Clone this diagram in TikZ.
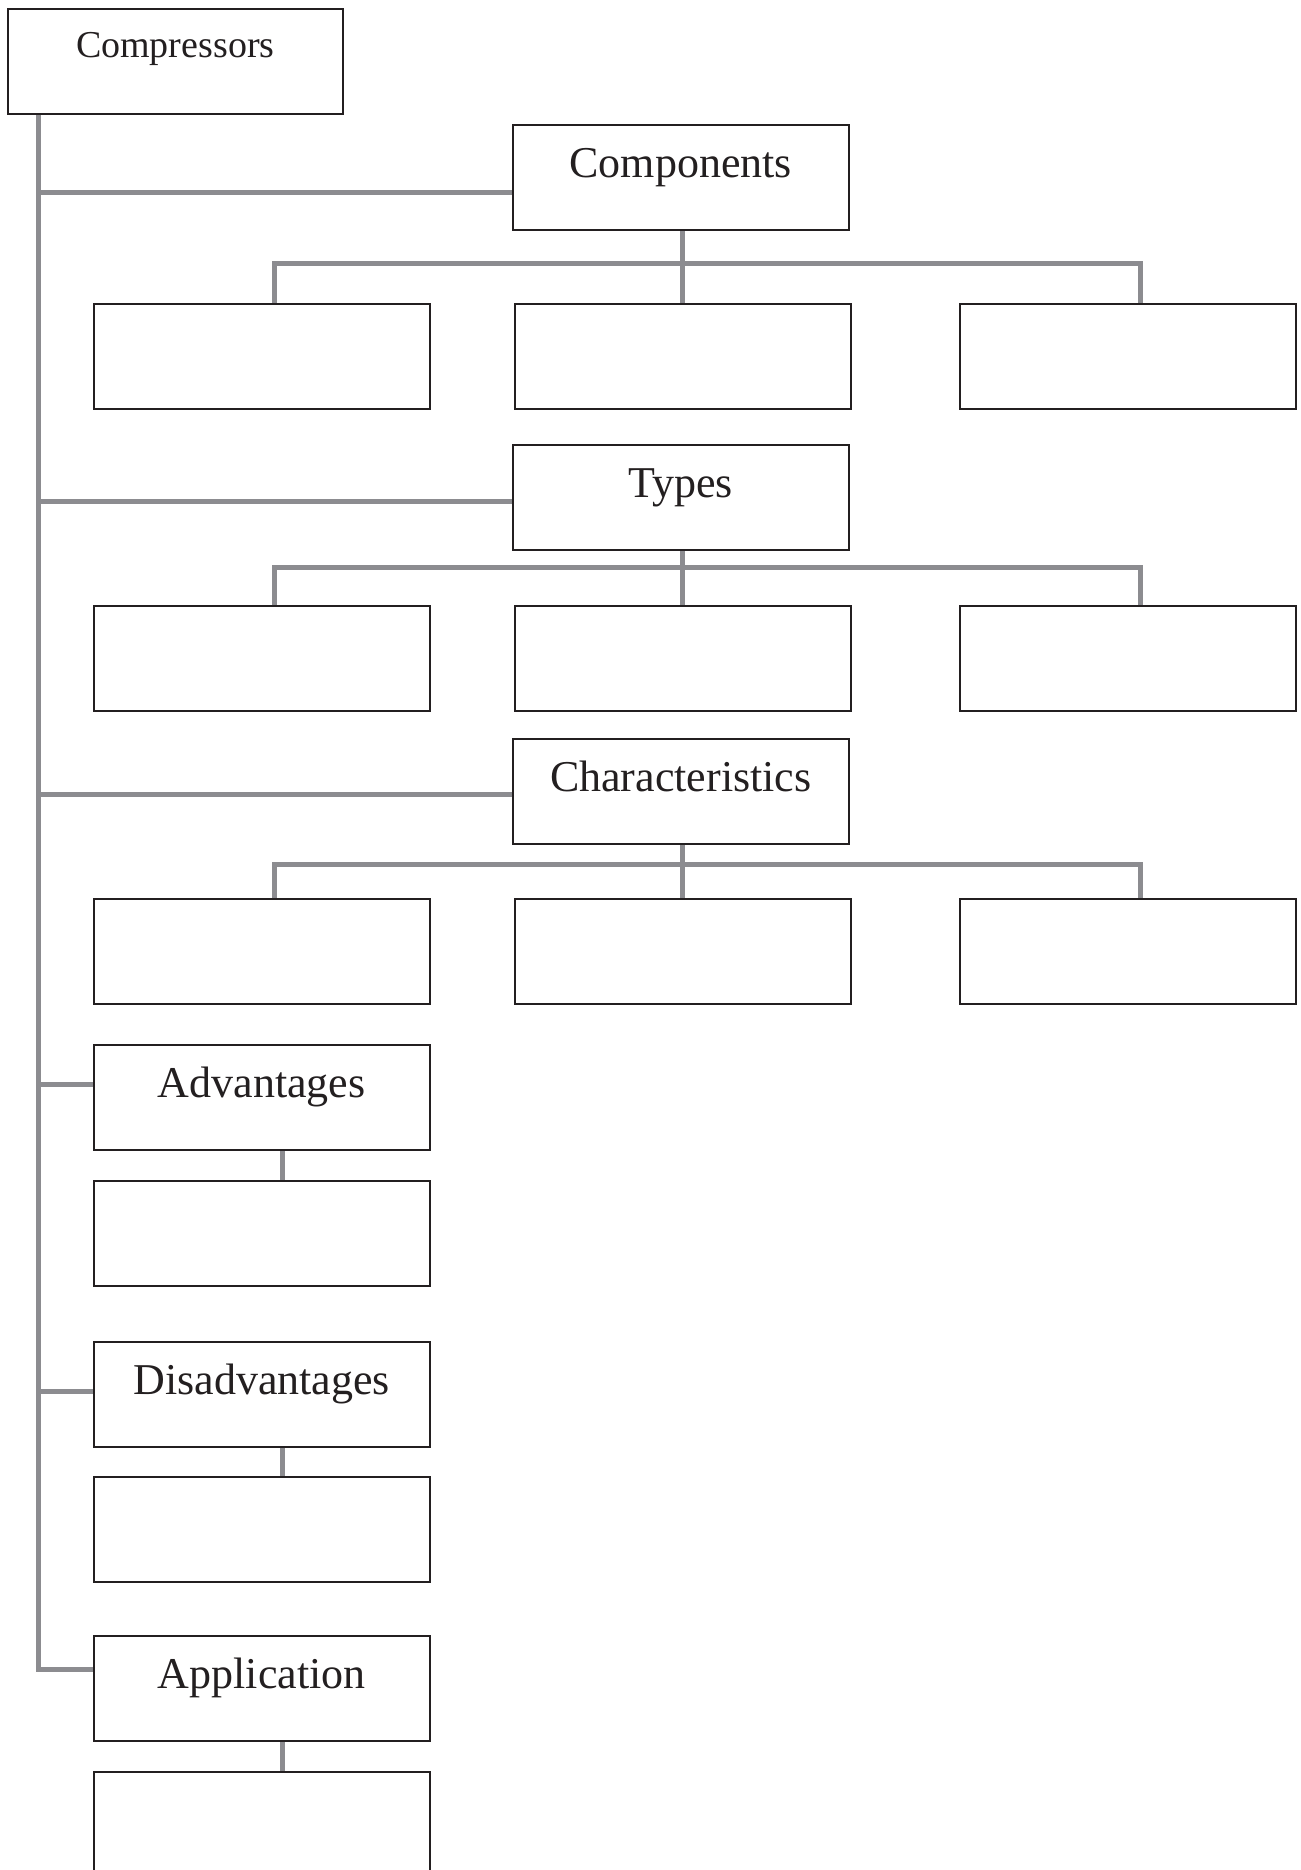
\documentclass[tikz,border=0pt]{standalone}
\usepackage{fontspec}
\setmainfont{Liberation Serif}
\definecolor{linkgray}{RGB}{140,140,144}
\definecolor{boxline}{RGB}{35,31,32}
\tikzset{
  box/.style={draw=boxline,line width=0.75pt,anchor=north west,inner sep=0pt,
    minimum width=168pt,minimum height=52.5pt,text height=26.5pt,text depth=26pt,
    text=boxline,font=\fontsize{22pt}{26pt}\selectfont},
  link/.style={draw=linkgray,line width=2.5pt}
}
\begin{document}
\begin{tikzpicture}[x=0.5pt,y=-0.5pt,line join=miter]
  \useasboundingbox (0,0) rectangle (1301,1870);
  \node[box,minimum width=167.5pt,text height=24.5pt,text depth=28pt,
    font=\fontsize{19pt}{23pt}\selectfont] (comp) at (7,8) {Compressors};
  \node[box] (comps) at (512,124) {Components};
  \node[box] (comps1) at (93,303) {};
  \node[box] (comps2) at (514,303) {};
  \node[box] (comps3) at (959,303) {};
  \node[box] (types) at (512,444) {Types};
  \node[box] (types1) at (93,605) {};
  \node[box] (types2) at (514,605) {};
  \node[box] (types3) at (959,605) {};
  \node[box] (chars) at (512,738) {Characteristics};
  \node[box] (chars1) at (93,898) {};
  \node[box] (chars2) at (514,898) {};
  \node[box] (chars3) at (959,898) {};
  \node[box] (adv) at (93,1044) {Advantages};
  \node[box] (adv1) at (93,1180) {};
  \node[box] (dis) at (93,1341) {Disadvantages};
  \node[box] (dis1) at (93,1476) {};
  \node[box] (app) at (93,1635) {Application};
  \node[box] (app1) at (93,1771) {};
  \coordinate (trunk) at ([xshift=15.75pt]comp.south west);
  \coordinate (app-in) at ([yshift=9.5pt]app.west);
  \draw[link] (trunk) |- (app-in);
  \foreach \n/\s in {comps/-7.75,types/-2.25,chars/-1.5,adv/6.25,dis/1.25} {
    \coordinate (\n-in) at ([yshift=\s pt]\n.west);
    \draw[link] (trunk |- \n-in) -- (\n-in);
  }
  \foreach \n/\d in {comps/33,types/17,chars/20} {
    \coordinate (\n-bus) at ([yshift=-\d*0.5pt]\n.south);
    \draw[link] (\n2.north -| \n2.north) -- (\n2.north |- \n.south);
    \draw[link] ([xshift=6.5pt]\n1.north) |- (\n-bus) -| ([xshift=6.5pt]\n3.north);
  }
  \foreach \n in {adv,dis,app} {
    \draw[link] ([xshift=10.5pt]\n1.north) -- ([xshift=10.5pt]\n1.north |- \n.south);
  }
\end{tikzpicture}
\end{document}
